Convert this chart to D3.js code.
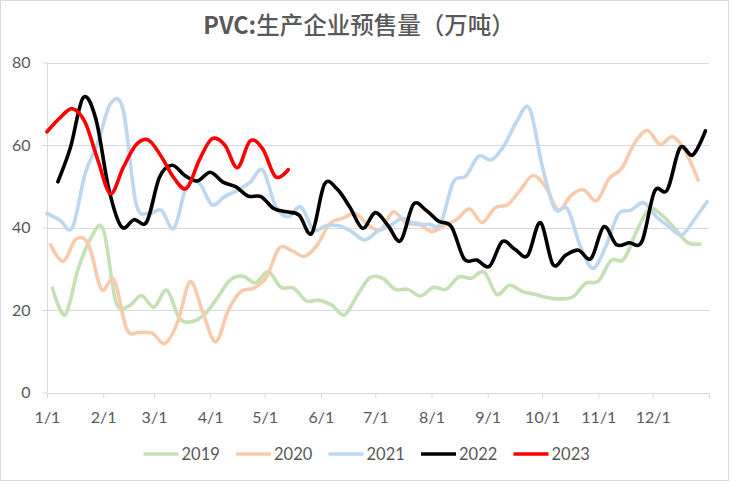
<!DOCTYPE html>
<html><head><meta charset="utf-8">
<script src="https://cdn.jsdelivr.net/npm/d3@7"></script>
<style>html,body{margin:0;padding:0;background:#fff;}svg{display:block;}</style>
</head><body>
<script>
const title = "生产企业预售量（万吨）";
const years = ["2019", "2020", "2021", "2022", "2023"];
const firstWeek = ["2019-01-04", "2020-01-03", "2021-01-01", "2022-01-07", "2023-01-01"];
const colors = ["#c5e0b4", "#f8cbad", "#bdd7ee", "#000000", "#ff0000"];
const yTicks = [0, 20, 40, 60, 80];
const monthStarts = ["01-01","02-01","03-01","04-01","05-01","06-01","07-01","08-01","09-01","10-01","11-01","12-01"];
const monthLabels = ["1/1","2/1","3/1","4/1","5/1","6/1","7/1","8/1","9/1","10/1","11/1","12/1"];

const v2019 = [25.3, 18.8, 29.7, 37.3, 39.6, 22, 20.9, 23.5, 20.7, 24.8, 18, 17.2, 19, 23, 27.3, 28.2, 26.6, 29.3, 25.5, 25.3, 22.2, 22.4, 21.2, 18.8, 23.5, 27.8, 27.7, 25, 25, 23.4, 25.5, 25, 28, 27.7, 29.2, 23.8, 26, 24.5, 23.8, 23, 22.7, 23.2, 26.5, 27, 32, 32.3, 39, 44.5, 43, 39.8, 36.4, 36];
const v2020 = [35.8, 31.8, 37.2, 35.8, 25, 27.3, 15.3, 14.6, 14.4, 11.9, 17, 26.9, 19.3, 12.3, 20, 24.5, 25.3, 28, 35, 34.4, 33, 35.8, 41, 42.2, 43.4, 40.6, 39.5, 43.8, 41, 41, 39, 40.5, 42, 44.5, 41.2, 44.8, 45.5, 49.1, 52.6, 49.8, 44.2, 47.8, 49.1, 46.5, 51.9, 54.4, 60.5, 63.5, 60.2, 62, 58.4, 51.5];
const v2021 = [43.4, 41.8, 40.0, 53, 60.5, 70, 68.5, 46, 43.4, 44.2, 39.8, 50, 50.7, 45.5, 47.5, 49, 51, 53.9, 45.2, 42.6, 45, 39.4, 40.5, 40.4, 39, 37.0, 39, 40.4, 42.2, 40.8, 40.8, 41.0, 51, 52.5, 57.3, 56.4, 59.8, 65.7, 68.9, 55, 44.5, 44.5, 35.5, 30.1, 35.3, 43.2, 44.2, 46, 42.6, 40.2, 38.2, 42, 46.3];
const v2022 = [51.1, 59.5, 71.5, 66.2, 49.5, 40.2, 41.9, 41.4, 52.2, 55.1, 52.6, 51.3, 53.4, 51.0, 49.9, 47.6, 47.5, 44.6, 43.8, 43.0, 38.6, 50.5, 49.3, 44.9, 39.8, 43.6, 40.5, 36.8, 45.6, 44.2, 41.5, 40.2, 32.4, 32.1, 30.6, 36.6, 34.7, 33.2, 41.2, 31.0, 33.3, 34.5, 32.5, 40.2, 35.8, 36.3, 36.6, 48.8, 49.1, 59.3, 57.6, 63.4];
const v2023 = [63.2, 66.5, 68.8, 65.5, 56.4, 48.2, 54.5, 60, 61.2, 57.2, 52, 49.5, 56.4, 61.5, 60, 54.5, 61, 59, 52.3, 54];
const seriesValues = [v2019, v2020, v2021, v2022, v2023];

const W = 733, H = 486;
const svg = d3.select("body").append("svg").attr("width", W).attr("height", H)
  .style("font-family", "Lato, 'Open Sans', sans-serif");

svg.append("rect").attr("x", 0.5).attr("y", 0.5).attr("width", 728).attr("height", 480)
  .attr("fill", "#fff").attr("stroke", "#d9d9d9");

const parse = d3.timeParse("%Y-%m-%d");
const dayOfYear = d => d3.timeDay.count(d3.timeYear(d), d);
const monthDays = monthStarts.map(s => dayOfYear(parse("2021-" + s)));

const x = d3.scaleLinear().domain([0, 365]).range([47, 709]);
const y = d3.scaleLinear().domain([0, 80]).range([392.5, 62.5]);

// gridlines
svg.append("g").selectAll("line").data(yTicks.filter(t => t > 0)).join("line")
  .attr("x1", x(0)).attr("x2", x(365))
  .attr("y1", d => Math.round(y(d)) + 0.5).attr("y2", d => Math.round(y(d)) + 0.5)
  .attr("stroke", "#d9d9d9").attr("stroke-width", 1);

// y axis
const gy = svg.append("g").attr("transform", `translate(${Math.round(x(0)) + 0.5},0)`)
  .call(d3.axisLeft(y).tickValues(yTicks).tickSize(5).tickPadding(12).tickFormat(d3.format("d")));
gy.select(".domain").attr("stroke", "#d9d9d9").attr("d", `M0,${y(80)}V${y(0)}`);
gy.selectAll(".tick line").attr("stroke", "#d9d9d9");
gy.selectAll(".tick text").attr("fill", "#595959").style("font-size", "16px")
  .style("font-family", "Lato, 'Open Sans', sans-serif");

// x axis
const gx = svg.append("g").attr("transform", `translate(0,${Math.round(y(0)) + 0.5})`)
  .call(d3.axisBottom(x).tickValues(monthDays.concat([365])).tickSize(5).tickPadding(13)
    .tickFormat(d => { const i = monthDays.indexOf(d); return i >= 0 ? monthLabels[i] : ""; }));
gx.select(".domain").attr("stroke", "#d9d9d9").attr("d", `M${x(0)},0H${x(365)}`);
gx.selectAll(".tick line").attr("stroke", "#d9d9d9");
gx.selectAll(".tick text").attr("fill", "#595959").style("font-size", "16px")
  .style("font-family", "Lato, 'Open Sans', sans-serif");

// lines
const line = d3.line().x(d => x(d.day)).y(d => y(d.value)).curve(d3.curveCardinal.tension(0));
seriesValues.forEach((vals, s) => {
  const start = dayOfYear(parse(firstWeek[s]));
  const pts = vals.map((v, i) => ({ day: start + 7 * i, value: v }));
  svg.append("path").datum(pts).attr("d", line)
    .attr("fill", "none").attr("stroke", colors[s]).attr("stroke-width", 3.6)
    .attr("stroke-linejoin", "round").attr("stroke-linecap", "round");
});

// title
const t = svg.append("text").attr("x", 359).attr("y", 34).attr("text-anchor", "middle")
  .attr("fill", "#595959").style("font-size", "23.5px")
  .style("font-family", "'Noto Sans CJK SC', 'Noto Sans', sans-serif");
t.append("tspan").attr("font-weight", "bold").text("PVC:");
t.append("tspan").attr("font-weight", "500").text(title);

// legend
const lg = svg.append("g").selectAll("g").data(years).join("g")
  .attr("transform", (d, i) => `translate(${143.5 + i * 92.5},454)`);
lg.append("line").attr("x1", 0).attr("x2", 35).attr("y1", 0).attr("y2", 0)
  .attr("stroke", (d, i) => colors[i]).attr("stroke-width", 3.6);
lg.append("text").attr("x", 38).attr("y", 0).attr("dy", "0.35em")
  .attr("fill", "#595959").style("font-size", "16.5px").text(d => d);
</script>
</body></html>
